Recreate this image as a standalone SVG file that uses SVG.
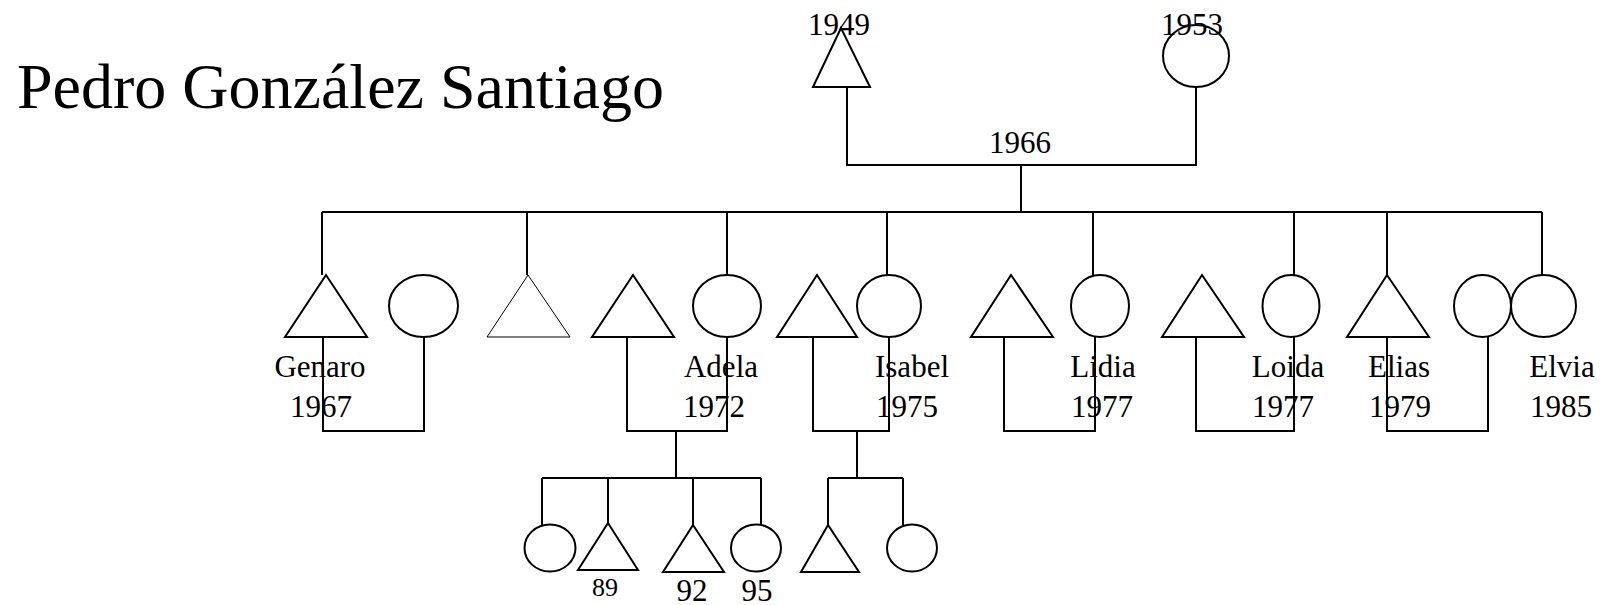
<svg xmlns="http://www.w3.org/2000/svg" width="1602" height="605" viewBox="0 0 1602 605">
<style>
text{font-family:"Liberation Serif","Times New Roman",serif;fill:#000;text-anchor:middle}
.t{font-size:31px}
.s{font-size:26px}
.title{font-size:64px;text-anchor:start}
.sh{fill:#fff;stroke:#000;stroke-width:2}
.thin{fill:#fff;stroke:#000;stroke-width:1}
.ln{fill:none;stroke:#000;stroke-width:2}
</style>
<rect width="1602" height="605" fill="#fff"/>
<text class="title" x="17" y="108">Pedro González Santiago</text>
<g id="connectors">
<path class="ln" d="M847,87V165H1196V87"/>
<path class="ln" d="M1021,165V212"/>
<path class="ln" d="M322,212H1542"/>
<path class="ln" d="M322,212V275M527,212V275M727,212V275M887,212V275M1093,212V275M1294,212V275M1387,212V275M1542,212V275"/>
<path class="ln" d="M323,337V431H424V337"/>
<path class="ln" d="M627,337V431H727V337"/>
<path class="ln" d="M813,337V431H889V337"/>
<path class="ln" d="M1004,337V431H1095V337"/>
<path class="ln" d="M1196,337V431H1294V337"/>
<path class="ln" d="M1387,337V431H1488V337"/>
<path class="ln" d="M676,431V478M542,478H761M542,478V525M608,478V523M693,478V525M761,478V525"/>
<path class="ln" d="M857,431V478M828,478H903M828,478V525M903,478V525"/>
</g>
<g id="father"><polygon class="sh" points="841,28 813,87 870,87"/><text class="t" x="839" y="35">1949</text></g>
<g id="mother"><ellipse class="sh" cx="1196" cy="56" rx="33" ry="31"/><text class="t" x="1192" y="35">1953</text></g>
<g id="marriage-year"><text class="t" x="1020" y="153">1966</text></g>
<g id="genaro"><polygon class="sh" points="326,275 285,337 367,337"/><text class="t" x="320" y="377">Genaro</text><text class="t" x="321" y="417">1967</text></g>
<g id="genaro-wife"><ellipse class="sh" cx="423.5" cy="306" rx="34.5" ry="31"/></g>
<g id="sibling-male"><polygon class="thin" points="528,275 487,337 570,337"/></g>
<g id="adela-husband"><polygon class="sh" points="633,275 592,337 674,337"/></g>
<g id="adela"><ellipse class="sh" cx="727" cy="306" rx="34" ry="31"/><text class="t" x="721" y="377">Adela</text><text class="t" x="714" y="417">1972</text></g>
<g id="isabel-husband"><polygon class="sh" points="817,275 777,337 857,337"/></g>
<g id="isabel"><ellipse class="sh" cx="889" cy="306" rx="32" ry="31"/><text class="t" x="912" y="377">Isabel</text><text class="t" x="907" y="417">1975</text></g>
<g id="lidia-husband"><polygon class="sh" points="1011,275 971,337 1053,337"/></g>
<g id="lidia"><ellipse class="sh" cx="1100" cy="306" rx="29" ry="31"/><text class="t" x="1103" y="377">Lidia</text><text class="t" x="1102" y="417">1977</text></g>
<g id="loida-husband"><polygon class="sh" points="1202,275 1162,337 1244,337"/></g>
<g id="loida"><ellipse class="sh" cx="1291" cy="306" rx="28.5" ry="31"/><text class="t" x="1288" y="377">Loida</text><text class="t" x="1283" y="417">1977</text></g>
<g id="elias"><polygon class="sh" points="1387,275 1347,337 1429,337"/><text class="t" x="1399" y="377">Elias</text><text class="t" x="1400" y="417">1979</text></g>
<g id="elias-wife"><ellipse class="sh" cx="1482.5" cy="306" rx="28.5" ry="31"/></g>
<g id="elvia"><ellipse class="sh" cx="1543.5" cy="306" rx="32.5" ry="31"/><text class="t" x="1562" y="377">Elvia</text><text class="t" x="1561" y="417">1985</text></g>
<g id="adela-child1"><ellipse class="sh" cx="550" cy="548" rx="25.5" ry="23.5"/></g>
<g id="adela-child2"><polygon class="sh" points="608,523 578,570 638,570"/><text class="s" x="605" y="596">89</text></g>
<g id="adela-child3"><polygon class="sh" points="693,525 663,572 724,572"/><text class="t" x="692" y="601">92</text></g>
<g id="adela-child4"><ellipse class="sh" cx="756" cy="548" rx="25" ry="23.5"/><text class="t" x="757" y="601">95</text></g>
<g id="isabel-child1"><polygon class="sh" points="828,525 801,572 859,572"/></g>
<g id="isabel-child2"><ellipse class="sh" cx="912" cy="548" rx="25" ry="23.5"/></g>
</svg>
